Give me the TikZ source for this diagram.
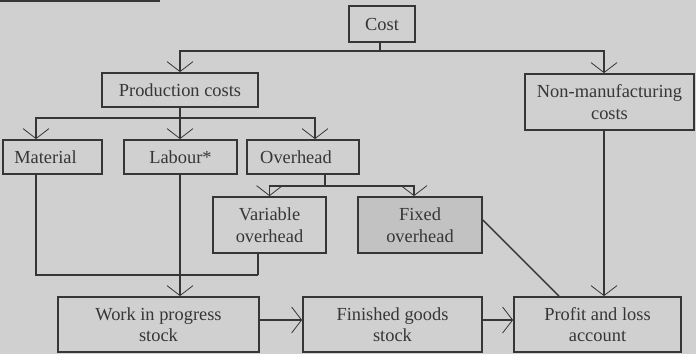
\documentclass[tikz,border=0pt]{standalone}
\usepackage{fontspec}
\setmainfont{Liberation Serif}
\usetikzlibrary{arrows.meta}
\definecolor{paper}{HTML}{D0D0D0}
\definecolor{ink}{HTML}{363636}
\definecolor{shade}{HTML}{C2C2C2}
\begin{document}
\begin{tikzpicture}[x=1pt,y=-1pt,
  box/.style={draw=ink,line width=1.8pt,rectangle,inner sep=0pt,align=center,
    text=ink,font=\fontsize{18.4}{21.5}\selectfont},
  link/.style={draw=ink,line width=1.5pt},
  arr/.style={link,-{Straight Barb[length=10pt,width=26pt,line width=0.8pt]}}]
  % page
  \fill[paper] (0,0) rectangle (696,354);
  \useasboundingbox (0,0) rectangle (696,354);
  \draw[ink,line width=1.5pt] (0,1) -- (160,1);

  % boxes
  \node[box,minimum width=66pt,minimum height=36pt] (cost) at (382,24) {Cost};
  \node[box,minimum width=156pt,minimum height=34pt] (prod) at (180,90) {Production costs};
  \node[box,minimum width=169pt,minimum height=56pt] (nonman) at (609.5,102) {Non-manufacturing\\costs};
  \node[box,minimum width=99pt,minimum height=34pt] (mat) at (52.5,157) {Material\hspace{14pt}};
  \node[box,minimum width=113pt,minimum height=34pt] (lab) at (180.5,157) {Labour*};
  \node[box,minimum width=112pt,minimum height=34pt] (ovh) at (303,157) {Overhead\hspace{14pt}};
  \node[box,minimum width=113pt,minimum height=56pt] (var) at (269.5,225) {Variable\\overhead};
  \node[box,fill=shade,minimum width=124pt,minimum height=56pt] (fix) at (420,225) {Fixed\\overhead};
  \node[box,minimum width=201pt,minimum height=55pt] (wip) at (158.5,324.5) {Work in progress\\stock};
  \node[box,minimum width=179pt,minimum height=55pt] (fin) at (392.5,324.5) {Finished goods\\stock};
  \node[box,minimum width=167pt,minimum height=55pt] (pnl) at (597.5,324.5) {Profit and loss\\account};

  % branch points
  \coordinate (costbar) at (380,51);
  \coordinate (prodbar) at (180,118);
  \coordinate (ovhbar) at (325,186);
  \coordinate (merge) at (258,275);
  \coordinate (nmline) at (604,0);

  % cost split
  \draw[link] ([xshift=-2pt]cost.south) -- (costbar);
  \draw[arr] (costbar) -| (nonman.north -| nmline);
  \draw[arr] (costbar) -| (prod.north);

  % production costs split
  \draw[link] (prod.south) -- (prodbar);
  \draw[arr] (prodbar) -| ([xshift=-16.5pt]mat.north);
  \draw[arr] (prodbar) -- (lab.north -| prodbar);
  \draw[arr] (prodbar) -| ([xshift=12pt]ovh.north);

  % overhead split
  \draw[link] (ovh.south -| ovhbar) -- (ovhbar);
  \draw[arr] (ovhbar) -| (var.north);
  \draw[arr] (ovhbar) -| ([xshift=-6pt]fix.north);

  % material and variable overhead join the labour line
  \draw[link] ([xshift=-16.5pt]mat.south) |- (merge);
  \draw[link] (var.south -| merge) -- (merge);
  \draw[arr] (lab.south -| prodbar) -- (wip.north -| prodbar);

  % flow into stock and the profit and loss account
  \draw[arr] ([yshift=4.5pt]wip.east) -- ([yshift=4.5pt]fin.west);
  \draw[arr] ([yshift=4.5pt]fin.east) -- ([yshift=4.5pt]pnl.west);
  \draw[arr] (nonman.south -| nmline) -- (pnl.north -| nmline);
  \draw[link] ([yshift=5pt]fix.east) -- ([xshift=-38.5pt]pnl.north);
\end{tikzpicture}
\end{document}
